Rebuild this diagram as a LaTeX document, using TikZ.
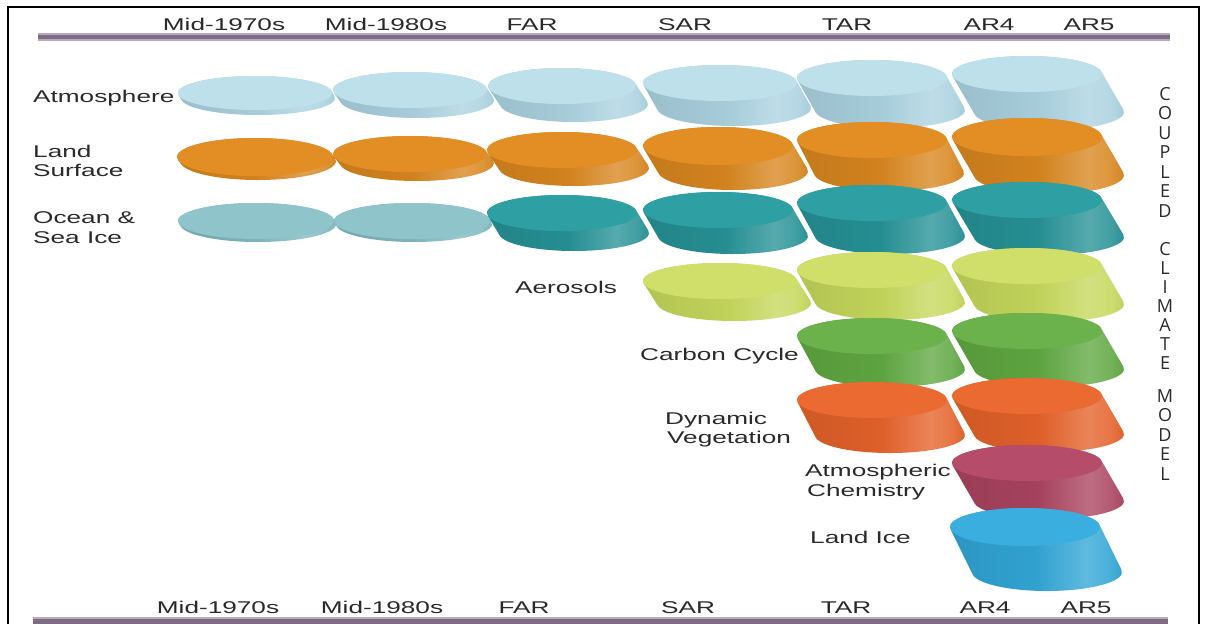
\documentclass[tikz,border=0pt]{standalone}
\usepackage{fontspec}
\newfontfamily\lab[FakeStretch=1.54]{Liberation Sans}
\newfontfamily\vfont{Open Sans}
\usetikzlibrary{calc}
\definecolor{atmT}{HTML}{BEE0EB}\definecolor{atmS}{HTML}{ABD2E0}
\definecolor{lndT}{HTML}{E28E24}\definecolor{lndS}{HTML}{D8861F}
\definecolor{ocpT}{HTML}{8EC4CA}\definecolor{ocpS}{HTML}{80B8C0}
\definecolor{ocnT}{HTML}{2E9FA3}\definecolor{ocnS}{HTML}{269296}
\definecolor{aerT}{HTML}{CFDF6A}\definecolor{aerS}{HTML}{C6D85C}
\definecolor{carT}{HTML}{6CB24C}\definecolor{carS}{HTML}{60A842}
\definecolor{vegT}{HTML}{EA6A32}\definecolor{vegS}{HTML}{E4622A}
\definecolor{chmT}{HTML}{B54C6A}\definecolor{chmS}{HTML}{AA4460}
\definecolor{iceT}{HTML}{3AAEDE}\definecolor{iceS}{HTML}{32A6D6}
\definecolor{barD}{HTML}{7E6C84}\definecolor{barL}{HTML}{B8AABB}
\definecolor{txt}{HTML}{2A2A2A}
\colorlet{sidecol}{black}
\pgfdeclarehorizontalshading[sidecol]{cylside}{100bp}{color(0bp)=(sidecol!90!black); color(25bp)=(sidecol!90!black); color(50bp)=(sidecol!97!black); color(64bp)=(sidecol!78!white); color(70bp)=(sidecol!88!white); color(75bp)=(sidecol!95!black); color(100bp)=(sidecol!95!black)}
\newcommand\cyl[8]{%
 \pgfmathsetmacro\cphi{atan((#4*#5)/(#3*#6))}%
 \colorlet{sidecol}{#8}%
 \shade[shading=cylside] (#1,#2) ++(180+\cphi:#3pt and #4pt) -- ++(#5,#6)
   arc[start angle=180+\cphi, end angle=360+\cphi, x radius=#3pt, y radius=#4pt]
   -- ++(-#5,-#6)
   arc[start angle=\cphi, end angle=180+\cphi, x radius=#3pt, y radius=#4pt] -- cycle;
 \fill[#7] (#1,#2) ellipse[x radius=#3pt, y radius=#4pt];
}
\tikzset{
 lbl/.style={inner sep=0pt, text=txt, font=\lab\fontsize{17}{20}\selectfont},
 vlbl/.style={inner sep=0pt, text=txt, align=center, anchor=north, font=\vfont\fontsize{18}{19.5}\selectfont},
}
\begin{document}
\begin{tikzpicture}[x=1pt,y=-1pt]
\useasboundingbox (0,0) rectangle (1208,624);
\fill[white] (0,0) rectangle (1208,624);
% frame
\draw[black, line width=2pt] (8,624) -- (8,7) -- (1199,7) -- (1199,624);
% bars
\draw[barL, line width=8pt] (38,37) -- (1170,37);
\draw[barD, line width=4pt] (38,37) -- (1170,37);
\draw[barL, line width=9pt] (33,621) -- (1168,621);
\draw[barD, line width=5pt] (33,621) -- (1168,621);
% top labels
\foreach \n/\x/\t in {t1/224/Mid-1970s, t2/386/Mid-1980s, t3/532/FAR, t4/685/SAR, t5/847/TAR, t6/989/AR4, t7/1089/AR5}
  \node[lbl, anchor=base] (\n) at (\x,30) {\t};
\foreach \n/\x/\t in {b1/218/Mid-1970s, b2/382/Mid-1980s, b3/524/FAR, b4/688/SAR, b5/846/TAR, b6/985/AR4, b7/1086/AR5}
  \node[lbl, anchor=base] (\n) at (\x,613) {\t};
% Atmosphere
\cyl{255}{93}{77}{17}{3}{5}{atmT}{atmS}
\cyl{410}{90}{77}{18}{7}{10}{atmT}{atmS}
\cyl{562}{86}{74}{18}{12}{18}{atmT}{atmS}
\cyl{720}{83}{77}{18}{14}{25}{atmT}{atmS}
\cyl{872}{78}{75}{18}{18}{32}{atmT}{atmS}
\cyl{1027}{74}{75}{18}{22}{38}{atmT}{atmS}
% Land surface
\cyl{255}{157}{78}{19}{3}{4}{lndT}{lndS}
\cyl{410}{154}{77}{18}{7}{9}{lndT}{lndS}
\cyl{562}{150}{75}{18}{12}{18}{lndT}{lndS}
\cyl{718}{146}{75}{19}{15}{25}{lndT}{lndS}
\cyl{872}{140}{75}{18}{17}{33}{lndT}{lndS}
\cyl{1027}{137}{75}{19}{22}{38}{lndT}{lndS}
% Ocean
\cyl{256}{221}{78}{18}{2}{3}{ocpT}{ocpS}
\cyl{412}{221}{78}{18}{2}{3}{ocpT}{ocpS}
\cyl{562}{213}{75}{18}{12}{20}{ocnT}{ocnS}
\cyl{718}{210}{75}{18}{15}{26}{ocnT}{ocnS}
\cyl{872}{203}{75}{18}{18}{33}{ocnT}{ocnS}
\cyl{1027}{200}{75}{18}{22}{37}{ocnT}{ocnS}
% Aerosols
\cyl{720}{281}{77}{18}{14}{22}{aerT}{aerS}
\cyl{872}{270}{75}{18}{18}{32}{aerT}{aerS}
\cyl{1027}{266}{75}{18}{22}{38}{aerT}{aerS}
% Carbon
\cyl{872}{336}{75}{18}{18}{33}{carT}{carS}
\cyl{1027}{331}{75}{18}{22}{38}{carT}{carS}
% Vegetation
\cyl{872}{400}{75}{18}{18}{35}{vegT}{vegS}
\cyl{1027}{396}{75}{18}{22}{38}{vegT}{vegS}
% Chemistry
\cyl{1027}{463}{75}{18}{22}{38}{chmT}{chmS}
% Land ice
\cyl{1025}{527}{75}{19}{22}{45}{iceT}{iceS}
% row labels
\node[lbl, anchor=base west] (atm) at (33,102) {Atmosphere};
\node[lbl, anchor=base west] (land1) at (33,157) {Land};
\node[lbl, anchor=base west] (land2) at (33,176) {Surface};
\node[lbl, anchor=base west] (ocn1) at (33,223) {Ocean \&};
\node[lbl, anchor=base west] (ocn2) at (33,243) {Sea Ice};
\node[lbl, anchor=base west] (aer) at (515,293) {Aerosols};
\node[lbl, anchor=base west] (car) at (640,360) {Carbon Cycle};
\node[lbl, anchor=base west] (veg1) at (665,424) {Dynamic};
\node[lbl, anchor=base west] (veg2) at (667,443) {Vegetation};
\node[lbl, anchor=base west] (chm1) at (805,476) {Atmospheric};
\node[lbl, anchor=base west] (chm2) at (807,496) {Chemistry};
\node[lbl, anchor=base west] (ice) at (810,543) {Land Ice};
% vertical title
\node[vlbl] (v1) at (1165,87) {C\\O\\U\\P\\L\\E\\D};
\node[vlbl, font=\vfont\fontsize{18}{19}\selectfont] (v2) at (1165,242) {C\\L\\I\\M\\A\\T\\E};
\node[vlbl] (v3) at (1165,389) {M\\O\\D\\E\\L};
\end{tikzpicture}
\end{document}
